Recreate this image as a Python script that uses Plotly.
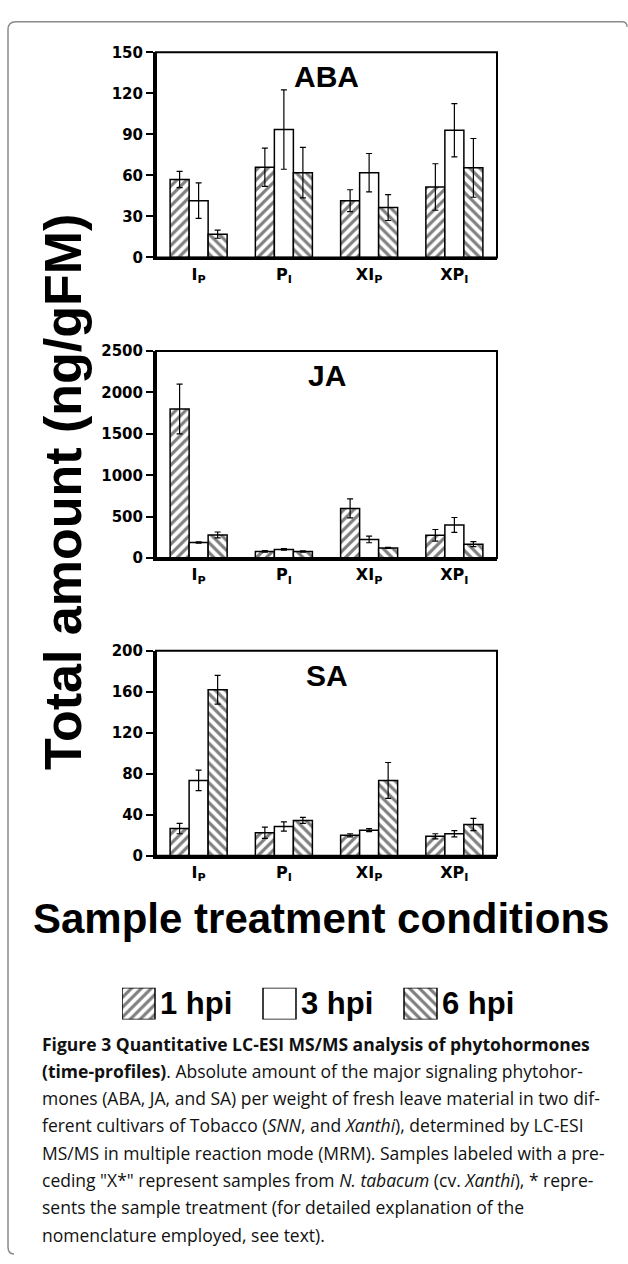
import plotly.graph_objects as go

# ---------------- data ----------------
categories = ["IP", "PI", "XIP", "XPI"]
category_labels = ["I<sub>P</sub>", "P<sub>I</sub>", "XI<sub>P</sub>", "XP<sub>I</sub>"]
series = ["1 hpi", "3 hpi", "6 hpi"]
patterns = ["/", "", "\\"]

panels = ["ABA", "JA", "SA"]
y_max = [150, 2500, 200]
y_dtick = [30, 500, 40]

aba_1 = [57, 66, 41.5, 51.5]
aba_1_err = [6, 14, 8, 17]
aba_3 = [41.5, 93.5, 62, 93]
aba_3_err = [13, 29, 14, 19.5]
aba_6 = [17, 62, 36.5, 65.5]
aba_6_err = [3, 18.5, 9.5, 21.5]

ja_1 = [1800, 80, 600, 275]
ja_1_err = [300, 10, 115, 70]
ja_3 = [188, 105, 225, 400]
ja_3_err = [8, 8, 40, 90]
ja_6 = [280, 80, 122, 168]
ja_6_err = [35, 8, 6, 30]

sa_1 = [26.5, 22.5, 20, 19]
sa_1_err = [5, 5.5, 1.5, 2.5]
sa_3 = [73.5, 28.5, 25, 21.5]
sa_3_err = [10, 4.5, 1.5, 3]
sa_6 = [162, 34.5, 73.5, 30.5]
sa_6_err = [14, 3, 17.5, 6]

values = [[aba_1, aba_3, aba_6], [ja_1, ja_3, ja_6], [sa_1, sa_3, sa_6]]
errors = [[aba_1_err, aba_3_err, aba_6_err], [ja_1_err, ja_3_err, ja_6_err], [sa_1_err, sa_3_err, sa_6_err]]

y_title = "Total amount (ng/gFM)"
x_title = "Sample treatment conditions"
caption_lines = [
    "<b>Figure 3 Quantitative LC-ESI MS/MS analysis of phytohormones</b>",
    "<b>(time-profiles)</b>. Absolute amount of the major signaling phytohor-",
    "mones (ABA, JA, and SA) per weight of fresh leave material in two dif-",
    "ferent cultivars of Tobacco (<i>SNN</i>, and <i>Xanthi</i>), determined by LC-ESI",
    "MS/MS in multiple reaction mode (MRM). Samples labeled with a pre-",
    "ceding \"X*\" represent samples from <i>N. tabacum</i> (cv. <i>Xanthi</i>), * repre-",
    "sents the sample treatment (for detailed explanation of the",
    "nomenclature employed, see text).",
]

# ---------------- layout helpers (pixel -> paper) ----------------
W, H = 628, 1264
def px(x):
    return x / W
def py(y):
    return 1 - y / H

panel_px = [(44, 252), (347, 557), (651, 859)]  # top, bottom in pixels
plot_left, plot_right = 156, 497

fig = go.Figure()

BOLD_ARIAL = "Liberation Sans, Arial, sans-serif"
TICK_FONT = dict(family="DejaVu Sans", size=15, color="black", weight="bold")
HATCH_SIZE, HATCH_SOLIDITY = 7, 0.45

for p in range(3):
    n = "" if p == 0 else str(p + 1)
    for s in range(3):
        fig.add_trace(go.Bar(
            x=categories, y=values[p][s], name=series[s],
            xaxis="x" + n, yaxis="y" + n,
            marker=dict(color="white", line=dict(color="black", width=1.5),
                        pattern=dict(shape=patterns[s], fgcolor="black", bgcolor="white",
                                     size=HATCH_SIZE, solidity=HATCH_SOLIDITY)),
            error_y=dict(type="data", array=errors[p][s], visible=True,
                         color="black", thickness=1.2, width=3),
            showlegend=False,
        ))
    top, bot = panel_px[p]
    fig.layout["xaxis" + n] = dict(
        domain=[px(plot_left), px(plot_right)], anchor="y" + n,
        type="category", categoryorder="array", categoryarray=categories,
        tickvals=categories, ticktext=category_labels, range=[-0.5, 3.5],
        showline=True, linewidth=3, linecolor="black", ticks="",
        tickfont=dict(family="DejaVu Sans", size=16, color="black", weight="bold"),
        ticklabelstandoff=0, showgrid=False, zeroline=False, fixedrange=True,
    )
    fig.layout["yaxis" + n] = dict(
        domain=[py(bot), py(top)], anchor="x" + n,
        range=[0, y_max[p]], tick0=0, dtick=y_dtick[p],
        ticks="outside", ticklen=7, tickwidth=2, tickcolor="black",
        showline=True, linewidth=3, linecolor="black",
        showgrid=False, zeroline=False, tickfont=TICK_FONT, fixedrange=True,
    )
    # panel box
    fig.add_shape(type="rect", xref="x" + n + " domain", yref="y" + n + " domain",
                  x0=0, x1=1, y0=0, y1=1, line=dict(color="black", width=2))
    # panel title
    fig.add_annotation(text="<b>" + panels[p] + "</b>", xref="x" + n, yref="y" + n + " domain",
                       x=1.5, y=0.88, showarrow=False, xanchor="center", yanchor="middle",
                       font=dict(family=BOLD_ARIAL, size=30, color="black"))

# ---------------- custom legend (bars drawn on a hidden axis) ----------------
leg_left, leg_slot = 122, 141
for s in range(3):
    fig.add_trace(go.Bar(
        x=[series[s]], y=[1], xaxis="x4", yaxis="y4", width=[0.234], offset=-0.5,
        marker=dict(color="white", line=dict(color="black", width=1.5),
                    pattern=dict(shape=patterns[s], fgcolor="black", bgcolor="white",
                                 size=HATCH_SIZE, solidity=HATCH_SOLIDITY)),
        showlegend=False, hoverinfo="skip",
    ))
    fig.add_annotation(text="<b>" + series[s] + "</b>", xref="x4", yref="y4",
                       x=s - 0.5, y=0.5, xshift=36, showarrow=False,
                       xanchor="left", yanchor="middle",
                       font=dict(family=BOLD_ARIAL, size=31, color="black"))
fig.layout["xaxis4"] = dict(domain=[px(leg_left), px(leg_left + 3 * leg_slot)], anchor="y4",
                            type="category", categoryorder="array", categoryarray=series,
                            range=[-0.5, 2.5], visible=False, fixedrange=True)
fig.layout["yaxis4"] = dict(domain=[py(1025), py(993)], anchor="x4", range=[0, 1],
                            visible=False, fixedrange=True)

# ---------------- titles ----------------
fig.add_annotation(text="<b>" + y_title + "</b>", xref="paper", yref="paper",
                   x=px(63), y=py(490), textangle=-90, showarrow=False,
                   xanchor="center", yanchor="middle",
                   font=dict(family=BOLD_ARIAL, size=52, color="black"))
fig.add_annotation(text="<b>" + x_title + "</b>", xref="paper", yref="paper",
                   x=px(321), y=py(923), showarrow=False,
                   xanchor="center", yanchor="middle",
                   font=dict(family=BOLD_ARIAL, size=42, color="black"))

# ---------------- caption ----------------
for i, line in enumerate(caption_lines):
    fig.add_annotation(text=line, xref="paper", yref="paper",
                       x=px(40), y=py(1049.5 + 27.7 * i), showarrow=False,
                       xanchor="left", yanchor="middle",
                       font=dict(family="Open Sans", size=17.5, color="#111111"))

# ---------------- outer rounded frame ----------------
r = 8
frame_path = (
    f"M {px(8)},{py(1256)} L {px(8)},{py(13 + r)} "
    f"Q {px(8)},{py(13)} {px(8 + r)},{py(13)} "
    f"L {px(622)},{py(13)} Q {px(627)},{py(13)} {px(627)},{py(18)}"
)
fig.add_shape(type="path", xref="paper", yref="paper", path=frame_path,
              line=dict(color="#8a8a8a", width=1.5))
fig.add_shape(type="path", xref="paper", yref="paper",
              path=f"M {px(8)},{py(1256)} Q {px(8)},{py(1263)} {px(14)},{py(1263)}",
              line=dict(color="#8a8a8a", width=1.5))

fig.update_layout(
    width=W, height=H, margin=dict(l=0, r=0, t=0, b=0),
    paper_bgcolor="white", plot_bgcolor="white",
    barmode="group", bargap=0.331, bargroupgap=0,
    showlegend=False,
)

fig.write_html("out.html",
               config={"displayModeBar": False},
               post_script="document.body.style.margin='0px';"
                           "document.documentElement.style.overflow='hidden';")
